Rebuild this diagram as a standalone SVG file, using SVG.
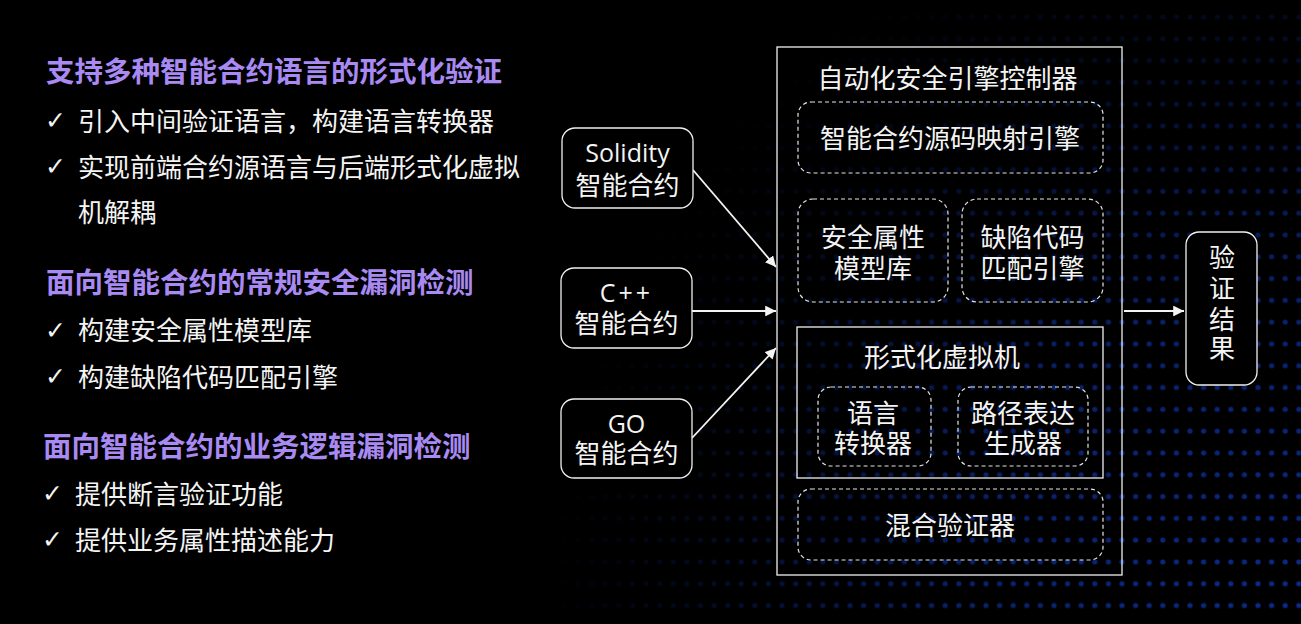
<svg xmlns="http://www.w3.org/2000/svg" width="1301" height="624" viewBox="0 0 1301 624">
<defs>
<style>
.h{font-family:"Noto Sans CJK SC","Noto Sans",sans-serif;font-weight:bold;font-size:28.5px;fill:#a98af2}
.t{font-family:"Noto Sans CJK SC","Noto Sans",sans-serif;font-size:26px;fill:#f4f4f4}
.ck{font-family:"DejaVu Sans",sans-serif;font-size:25px;fill:#f4f4f4}
.c{font-family:"Noto Sans CJK SC","Noto Sans",sans-serif;font-size:26px;fill:#f4f4f4;text-anchor:middle}
.l{font-family:"Open Sans","Noto Sans",sans-serif;font-size:25px;fill:#f4f4f4;text-anchor:middle}
.box{fill:#000;stroke:#f0f0f0;stroke-width:1.3}
.dash{fill:none;stroke:#e6e6e6;stroke-width:1.2;stroke-dasharray:4 3}
.edge{stroke:#f4f4f4;stroke-width:1.8;fill:none}
</style>
<pattern id="dots" x="0" y="6" width="13.6" height="21.8" patternUnits="userSpaceOnUse">
<circle cx="6.8" cy="10.9" r="2.6" fill="#0b2b8c"/>
</pattern>
<radialGradient id="fade" cx="1301" cy="624" r="760" gradientUnits="userSpaceOnUse">
<stop offset="0" stop-color="#fff" stop-opacity="1"/>
<stop offset="0.45" stop-color="#fff" stop-opacity="0.75"/>
<stop offset="0.8" stop-color="#fff" stop-opacity="0.22"/>
<stop offset="1" stop-color="#fff" stop-opacity="0"/>
</radialGradient>
<mask id="m"><rect width="1301" height="624" fill="url(#fade)"/></mask>
<marker id="arr" viewBox="0 0 10 10" refX="10" refY="5" markerWidth="6" markerHeight="6" markerUnits="strokeWidth" orient="auto">
<path d="M0,0 L10,5 L0,10 z" fill="#f4f4f4"/>
</marker>
</defs>
<rect width="1301" height="624" fill="#000"/>
<rect width="1301" height="624" fill="url(#dots)" mask="url(#m)"/>

<g id="left-text">
<text class="h" x="46" y="82">支持多种智能合约语言的形式化验证</text>
<text class="ck" x="45" y="129">✓</text><text class="t" x="78" y="131">引入中间验证语言，构建语言转换器</text>
<text class="ck" x="45" y="175">✓</text><text class="t" x="78" y="176.5">实现前端合约源语言与后端形式化虚拟</text>
<text class="t" x="78" y="221.5">机解耦</text>
<text class="h" x="46" y="293">面向智能合约的常规安全漏洞检测</text>
<text class="ck" x="45" y="339">✓</text><text class="t" x="78" y="340">构建安全属性模型库</text>
<text class="ck" x="45" y="385">✓</text><text class="t" x="78" y="386.5">构建缺陷代码匹配引擎</text>
<text class="h" x="43" y="457">面向智能合约的业务逻辑漏洞检测</text>
<text class="ck" x="42" y="502">✓</text><text class="t" x="75" y="503.5">提供断言验证功能</text>
<text class="ck" x="42" y="548">✓</text><text class="t" x="75" y="550">提供业务属性描述能力</text>
</g>

<g id="connectors">
<line class="edge" x1="693" y1="170" x2="776" y2="267" marker-end="url(#arr)"/>
<line class="edge" x1="692" y1="311" x2="776" y2="311" marker-end="url(#arr)"/>
<line class="edge" x1="692" y1="438" x2="776" y2="348" marker-end="url(#arr)"/>
<line class="edge" x1="1124" y1="311" x2="1184" y2="311" marker-end="url(#arr)"/>
</g>

<g id="solidity">
<rect class="box" x="562" y="128" width="131" height="80" rx="13"/>
<text class="l" x="627.5" y="162">Solidity</text>
<text class="c" x="627.5" y="195">智能合约</text>
</g>
<g id="cpp">
<rect class="box" x="561" y="268" width="131" height="80" rx="13"/>
<text class="l" x="626.5" y="302" letter-spacing="3">C++</text>
<text class="c" x="626.5" y="333">智能合约</text>
</g>
<g id="go">
<rect class="box" x="561" y="399" width="131" height="79" rx="13"/>
<text class="l" x="626.5" y="433">GO</text>
<text class="c" x="626.5" y="463">智能合约</text>
</g>

<g id="controller">
<rect x="777" y="47" width="345" height="528" fill="none" stroke="#f0f0f0" stroke-width="1.3"/>
<text class="c" x="947.5" y="88">自动化安全引擎控制器</text>
</g>
<g id="mapping-engine">
<rect class="dash" x="798" y="102" width="305" height="71" rx="13"/>
<text class="c" x="950" y="148">智能合约源码映射引擎</text>
</g>
<g id="security-model">
<rect class="dash" x="798" y="199" width="150" height="103" rx="15"/>
<text class="c" x="873" y="247">安全属性</text>
<text class="c" x="873" y="277.5">模型库</text>
</g>
<g id="defect-engine">
<rect class="dash" x="962" y="199" width="141" height="103" rx="15"/>
<text class="c" x="1032.5" y="247">缺陷代码</text>
<text class="c" x="1032.5" y="277.5">匹配引擎</text>
</g>
<g id="vm">
<rect x="797" y="327" width="306" height="151" fill="none" stroke="#f0f0f0" stroke-width="1.3"/>
<text class="c" x="942" y="367">形式化虚拟机</text>
</g>
<g id="lang-converter">
<rect class="dash" x="818" y="387" width="113" height="79" rx="13"/>
<text class="c" x="873" y="422.5">语言</text>
<text class="c" x="873" y="453">转换器</text>
</g>
<g id="path-gen">
<rect class="dash" x="958" y="387" width="130" height="79" rx="13"/>
<text class="c" x="1023" y="422.5">路径表达</text>
<text class="c" x="1023" y="453">生成器</text>
</g>
<g id="hybrid-verifier">
<rect class="dash" x="798" y="489" width="305" height="71" rx="13"/>
<text class="c" x="950" y="535">混合验证器</text>
</g>
<g id="result">
<rect class="box" x="1186" y="232" width="71" height="153" rx="13"/>
<text class="c" x="1222" y="267">验</text>
<text class="c" x="1222" y="297.5">证</text>
<text class="c" x="1222" y="329">结</text>
<text class="c" x="1222" y="358">果</text>
</g>
</svg>
